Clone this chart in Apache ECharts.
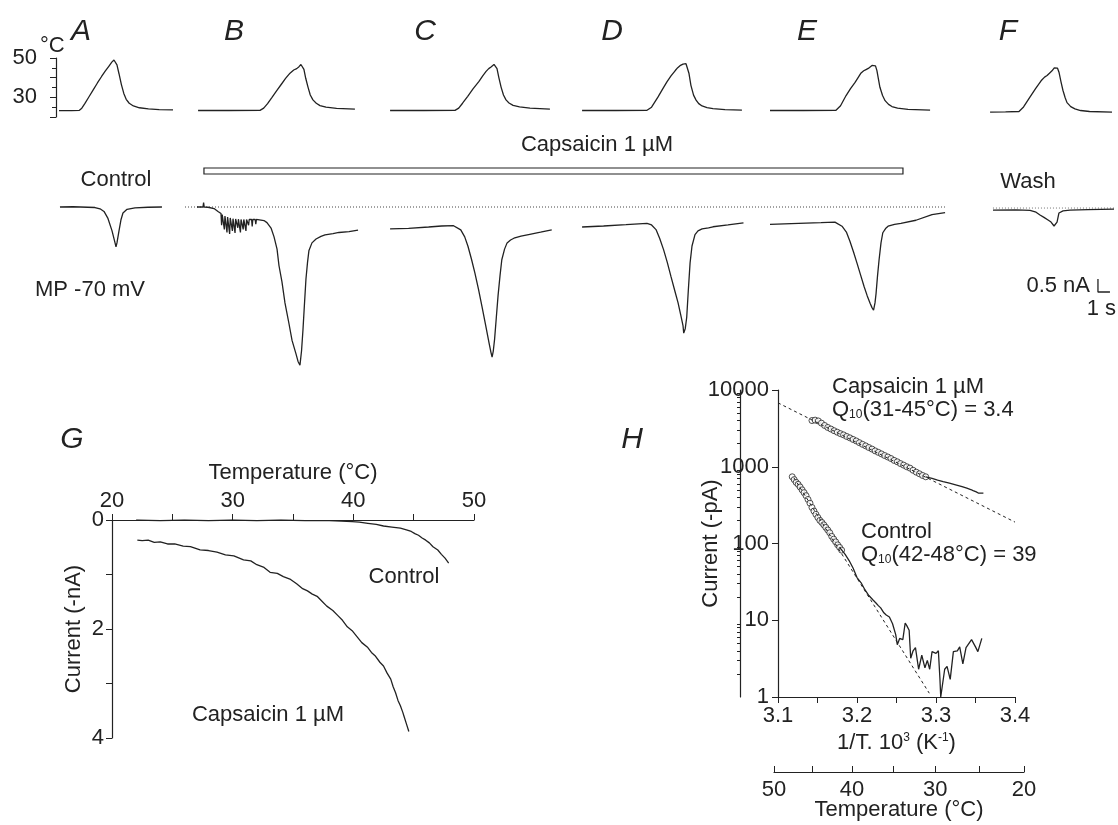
<!DOCTYPE html>
<html>
<head>
<meta charset="utf-8">
<script src="https://cdn.jsdelivr.net/npm/echarts@6/dist/echarts.min.js"></script>
<style>
html, body { margin: 0; padding: 0; background: #fff; }
#main { width: 1118px; height: 825px; }
</style>
</head>
<body>
<div id="main"></div>
<script>
var FONT = '"Liberation Sans", Arial, Helvetica, sans-serif';
var INK = '#222';

// ---- top row: bath temperature (s, °C) ----
var timeMax = 88.5;
var tempA = [[0.25,23.2],[1.3,23.2],[1.95,23.4],[2.15,24.5],[2.4,26.8],[2.75,30.3],[3.1,33.8],[3.45,37.3],[3.8,40.6],[4.1,43.3],[4.4,45.8],[4.65,47.9],[4.83,49.0],[4.95,48.7],[5.08,46.5],[5.25,42.0],[5.45,36.5],[5.65,32.0],[5.85,29.0],[6.1,27.0],[6.45,25.6],[6.95,24.7],[7.7,24.1],[8.6,23.8],[9.75,23.6]];
var tempB = [[11.84,23.3],[14.38,23.3],[17.0,23.4],[17.31,24.5],[17.63,26.8],[18.0,30.0],[18.38,33.3],[18.75,36.4],[19.13,39.6],[19.5,42.3],[19.81,43.9],[20.06,44.6],[20.25,45.6],[20.41,46.7],[20.54,46.3],[20.66,44.2],[20.81,39.7],[21.0,35.2],[21.19,31.2],[21.41,28.7],[21.69,27.0],[22.0,25.8],[22.5,25.0],[23.38,24.4],[24.91,24.0]];
var tempC = [[27.84,23.3],[30.63,23.3],[33.25,23.4],[33.56,24.5],[33.88,27.0],[34.31,30.5],[34.75,34.3],[35.25,38.1],[35.56,40.9],[35.84,43.2],[36.06,44.6],[36.25,45.4],[36.38,46.2],[36.5,46.7],[36.63,46.4],[36.75,44.6],[36.9,40.2],[37.09,35.2],[37.29,31.2],[37.5,28.7],[37.75,27.1],[38.09,25.9],[38.63,25.1],[39.5,24.5],[41.16,24.0]];
var tempD = [[43.84,23.3],[46.63,23.3],[49.25,23.4],[49.63,25.0],[50.16,30.1],[50.56,34.3],[50.91,37.9],[51.25,40.9],[51.59,43.5],[51.81,45.1],[52.0,46.1],[52.25,46.9],[52.5,47.1],[52.63,46.3],[52.75,42.1],[52.91,36.1],[53.13,31.1],[53.34,28.6],[53.56,26.8],[53.84,25.6],[54.25,24.8],[54.75,24.3],[55.75,23.8],[57.16,23.5]];
var tempE = [[59.5,23.3],[62.25,23.3],[65.0,23.4],[65.38,25.7],[65.84,30.9],[66.21,34.4],[66.59,37.6],[66.88,40.4],[67.09,42.4],[67.31,43.5],[67.5,44.1],[67.69,44.7],[67.84,45.3],[68.0,46.2],[68.16,46.8],[68.29,46.0],[68.41,43.6],[68.54,39.1],[68.66,35.1],[68.88,30.9],[69.09,28.3],[69.38,26.4],[69.66,25.3],[70.13,24.5],[71.0,23.9],[72.84,23.5]];
var tempF = [[77.84,22.5],[79.13,22.6],[80.25,22.8],[80.63,25.1],[81.16,30.1],[81.63,34.4],[82.09,38.4],[82.38,40.3],[82.59,41.1],[82.81,42.4],[83.0,43.5],[83.19,45.0],[83.34,45.8],[83.46,44.8],[83.59,42.6],[83.75,37.9],[83.91,33.6],[84.09,29.9],[84.25,27.3],[84.56,25.3],[84.91,24.1],[85.38,23.3],[86.13,22.8],[88.0,22.5]];

// ---- membrane current (s, nA, inward negative) ----
var curControl = [[0.33,0],[1.42,0.01],[3.25,-0.02],[3.67,-0.07],[4.0,-0.17],[4.33,-0.44],[4.67,-0.92],[4.92,-1.38],[5.0,-1.53],[5.08,-1.38],[5.25,-0.92],[5.42,-0.48],[5.58,-0.23],[5.92,-0.09],[6.58,-0.03],[7.67,-0.01],[8.83,0]];
var curB = [[11.75,0],[12.25,0],[12.3,0.17],[12.35,0],[12.67,-0.01],[13.17,-0.06],[13.5,-0.17],
  [13.75,-0.25],[13.8,-0.7],[13.85,-0.29],[13.98,-0.32],[14.03,-0.86],[14.08,-0.35],[14.2,-0.37],[14.25,-0.98],[14.3,-0.39],[14.42,-0.4],[14.47,-1.04],[14.52,-0.42],[14.65,-0.44],[14.7,-0.92],[14.75,-0.45],[14.87,-0.46],[14.92,-1.0],[14.97,-0.46],[15.1,-0.47],[15.15,-0.8],[15.2,-0.47],[15.32,-0.48],[15.37,-0.98],[15.42,-0.48],[15.55,-0.48],[15.6,-0.86],[15.65,-0.48],[15.78,-0.48],[15.83,-0.92],[15.88,-0.48],[16.0,-0.48],[16.05,-0.7],[16.1,-0.48],[16.3,-0.48],[16.35,-0.75],[16.4,-0.48],[16.6,-0.48],[16.65,-0.66],[16.7,-0.48],
  [17.33,-0.52],[17.58,-0.6],[17.92,-0.81],[18.17,-1.15],[18.42,-1.62],[18.58,-2.25],[18.83,-2.88],[19.08,-3.69],[19.42,-4.5],[19.67,-5.13],[20.0,-5.65],[20.17,-5.94],[20.33,-6.08],[20.46,-5.54],[20.58,-4.73],[20.71,-3.69],[20.83,-2.77],[20.96,-2.13],[21.08,-1.67],[21.33,-1.38],[21.67,-1.23],[22.08,-1.13],[22.42,-1.07],[23.08,-1.02],[23.58,-0.98],[24.42,-0.95],[25.17,-0.89]];
var curC = [[27.84,-0.84],[29.38,-0.82],[31.05,-0.77],[32.13,-0.73],[33.13,-0.72],[33.73,-0.88],[34.06,-1.15],[34.33,-1.51],[34.63,-2.02],[34.91,-2.54],[35.21,-3.17],[35.5,-3.83],[35.81,-4.56],[36.09,-5.24],[36.25,-5.6],[36.34,-5.77],[36.44,-5.54],[36.55,-5.08],[36.69,-4.27],[36.84,-3.4],[37.0,-2.65],[37.15,-2.03],[37.38,-1.62],[37.59,-1.38],[37.88,-1.27],[38.16,-1.2],[38.75,-1.12],[39.38,-1.06],[40.38,-0.97],[41.31,-0.88]];
var curD = [[43.84,-0.77],[45.63,-0.73],[47.5,-0.68],[49.25,-0.63],[49.63,-0.69],[50.0,-0.87],[50.31,-1.21],[50.63,-1.64],[50.94,-2.13],[51.25,-2.68],[51.56,-3.21],[51.84,-3.69],[52.06,-4.15],[52.25,-4.56],[52.31,-4.85],[52.44,-4.67],[52.56,-4.24],[52.69,-3.23],[52.84,-2.15],[53.0,-1.5],[53.25,-1.06],[53.5,-0.92],[53.84,-0.84],[54.38,-0.8],[54.75,-0.76],[56.0,-0.69],[57.29,-0.61]];
var curE = [[59.5,-0.67],[61.88,-0.63],[63.75,-0.6],[64.91,-0.58],[65.5,-0.74],[65.88,-0.98],[66.16,-1.32],[66.46,-1.73],[66.75,-2.16],[67.04,-2.6],[67.34,-3.06],[67.59,-3.4],[67.84,-3.7],[68.0,-3.87],[68.13,-3.97],[68.25,-3.69],[68.34,-3.32],[68.46,-2.65],[68.59,-2.03],[68.75,-1.38],[68.9,-0.99],[69.13,-0.83],[69.34,-0.74],[69.88,-0.67],[70.41,-0.63],[71.66,-0.51],[73.0,-0.29],[74.09,-0.22]];
var curWash = [[78.08,-0.12],[80.0,-0.11],[81.17,-0.13],[81.67,-0.2],[82.0,-0.31],[82.33,-0.4],[82.67,-0.5],[82.92,-0.58],[83.08,-0.65],[83.17,-0.73],[83.3,-0.66],[83.42,-0.58],[83.58,-0.23],[83.92,-0.15],[84.5,-0.12],[86.0,-0.1],[88.17,-0.08]];
var zeroLine = [[10.75,0],[74.08,0]];
var washZeroLine = [[78.08,-0.04],[88.17,-0.04]];
var capsApplied = [12.33, 70.58];         // s
var capsBarLevel = [1.27, 1.5];          // drawn band, nA units
var scaleBar = [[86.83,-2.77],[86.83,-3.27],[87.83,-3.27]];   // 0.5 nA, 1 s

// ---- G: current vs temperature ----
var gControl = [[22.0,0.0],[24.0,0.01],[26.0,0.0],[28.0,0.01],[30.0,0.0],[32.0,0.01],[34.0,0.0],[36.0,0.01],[38.0,0.01],[39.0,0.02],[39.9,0.03],[40.5,0.04],[41.2,0.06],[41.9,0.08],[42.5,0.11],[43.2,0.13],[43.9,0.15],[44.4,0.18],[44.8,0.21],[45.1,0.25],[45.4,0.28],[45.7,0.33],[46.0,0.37],[46.3,0.42],[46.6,0.49],[47.0,0.55],[47.3,0.63],[47.6,0.70],[47.9,0.79]];
var gCaps = [[22.1,0.37],[22.5,0.38],[23.0,0.37],[23.5,0.41],[24.0,0.40],[24.6,0.44],[25.2,0.44],[25.9,0.48],[26.5,0.49],[27.3,0.55],[28.0,0.56],[28.7,0.59],[29.4,0.64],[30.1,0.66],[30.9,0.73],[31.5,0.75],[32.0,0.82],[32.6,0.87],[33.1,0.96],[33.7,0.98],[34.2,1.04],[34.8,1.09],[35.3,1.17],[35.8,1.26],[36.2,1.30],[36.6,1.36],[37.0,1.40],[37.4,1.49],[37.8,1.58],[38.3,1.66],[38.7,1.75],[39.1,1.84],[39.5,1.96],[39.9,2.03],[40.3,2.14],[40.7,2.25],[41.2,2.34],[41.5,2.43],[41.8,2.49],[42.2,2.61],[42.5,2.68],[42.8,2.81],[43.1,2.92],[43.3,3.06],[43.5,3.17],[43.7,3.31],[43.9,3.41],[44.1,3.53],[44.2,3.60],[44.4,3.74],[44.6,3.88]];

// ---- H: Arrhenius plot (1000/T, -pA) ----
var hCapsCircles = [[3.143,4000],[3.147,4050],[3.151,3950],[3.155,3700],[3.159,3450],[3.163,3250],[3.167,3100],[3.171,2950],[3.175,2820],[3.179,2700],[3.183,2600],[3.187,2480],[3.191,2380],[3.195,2270],[3.199,2170],[3.203,2060],[3.207,1960],[3.211,1870],[3.215,1780],[3.219,1700],[3.223,1610],[3.227,1540],[3.231,1470],[3.235,1400],[3.239,1340],[3.243,1280],[3.247,1210],[3.251,1160],[3.255,1100],[3.259,1050],[3.263,1000],[3.267,960],[3.271,900],[3.275,850],[3.279,810],[3.283,770],[3.287,740]];
var hCapsTail = [[3.287,740],[3.295,705],[3.302,670],[3.309,640],[3.317,610],[3.326,578],[3.333,550],[3.339,525],[3.344,505],[3.347,488],[3.351,470],[3.354,452],[3.36,452]];
var hCapsFit = [[3.1,6800],[3.4,190]];
var hCtrlCircles = [[3.118,740],[3.1205,680],[3.123,625],[3.1255,590],[3.128,545],[3.1305,500],[3.133,460],[3.1355,420],[3.138,375],[3.1405,335],[3.143,295],[3.1455,265],[3.148,240],[3.1505,218],[3.153,200],[3.1555,188],[3.158,175],[3.1605,162],[3.163,150],[3.1655,138],[3.168,124],[3.1705,114],[3.173,105],[3.1755,96],[3.178,89],[3.1805,82]];
var hCtrlTail = [[3.178,89],[3.185,72],[3.19,60],[3.195,48],[3.2,36],[3.205,31],[3.21,25],[3.215,21],[3.22,18.5],[3.224,16.8],[3.227,15.5],[3.23,14.5],[3.234,12.5],[3.237,11.7],[3.241,11],[3.245,9],[3.249,6.5],[3.251,4.8],[3.254,5.8],[3.258,5.6],[3.261,9.2],[3.263,8.5],[3.266,7.4],[3.268,3.2],[3.271,4.0],[3.274,4.4],[3.278,2.3],[3.282,3.5],[3.286,2.4],[3.289,3.0],[3.292,2.3],[3.295,3.9],[3.3,3.7],[3.303,4.0],[3.305,1.7],[3.306,1.0],[3.308,1.0],[3.311,2.3],[3.314,2.5],[3.318,1.7],[3.322,3.9],[3.327,4.0],[3.33,4.5],[3.334,2.7],[3.338,4.4],[3.345,5.6],[3.35,4.5],[3.353,3.9],[3.358,5.8]];
var hCtrlFit = [[3.12,720],[3.2915,1.12]];
var hLogMinor = [2,3,4,5,6,7,8,9,20,30,40,50,60,70,80,90,200,300,400,500,600,700,800,900,2000,3000,4000,5000,6000,7000,8000,9000];
var hTempTicks = [50,45,40,35,30,25,20];
var hTempLabels = [50,40,30,20];

function invT(c) { return 1000 / (c + 273.15); }

function trace(data, xi, yi) {
    return {
        type: 'line', data: data, xAxisIndex: xi, yAxisIndex: yi,
        showSymbol: false, silent: true,
        lineStyle: { color: INK, width: 1.3 }
    };
}
function dashed(data, xi, yi) {
    var s = trace(data, xi, yi);
    s.lineStyle = { color: INK, width: 1, type: [3, 3] };
    return s;
}
function circles(data) {
    return {
        type: 'scatter', data: data, xAxisIndex: 3, yAxisIndex: 3,
        symbol: 'circle', symbolSize: 6, silent: true,
        itemStyle: { color: '#fff', borderColor: INK, borderWidth: 1 }
    };
}
function txt(x, y, s, size, extra) {
    var st = {
        text: s, x: x, y: y, fill: INK,
        font: (extra && extra.italic ? 'italic ' : '') + size + 'px ' + FONT,
        align: (extra && extra.align) || 'center', textAlign: (extra && extra.align) || 'center',
        verticalAlign: 'middle', textVerticalAlign: 'middle'
    };
    if (extra && extra.rich) st.rich = extra.rich;
    return { type: 'text', silent: true, style: st };
}

var axisText = { color: INK, fontSize: 22, fontFamily: FONT };
var inkLine = { show: true, lineStyle: { color: INK, width: 1.2 } };
var subRich = { s: { fontSize: 12, fontFamily: FONT, color: INK, verticalAlign: 'bottom', padding: [10, 0, 0, 0] } };

var myChart = echarts.init(document.getElementById('main'));
var option = {
    animation: false,
    backgroundColor: '#fff',
    grid: [
        { left: 56, top: 58, width: 1062, height: 59, containLabel: false, outerBoundsMode: 'none' },
        { left: 56, top: 155, width: 1062, height: 234, containLabel: false, outerBoundsMode: 'none' },
        { left: 112, top: 520, width: 362, height: 218, containLabel: false, outerBoundsMode: 'none' },
        { left: 778, top: 390, width: 237, height: 307, containLabel: false, outerBoundsMode: 'none' },
        { left: 774, top: 771, width: 250, height: 1, containLabel: false, outerBoundsMode: 'none' },
        // helper grid whose right edge is the H y axis, carrying the minor log ticks
        { left: 740, top: 390, width: 38, height: 307, containLabel: false, outerBoundsMode: 'none' }
    ],
    xAxis: [
        { gridIndex: 0, type: 'value', min: 0, max: timeMax, show: false },
        { gridIndex: 1, type: 'value', min: 0, max: timeMax, show: false },
        {
            gridIndex: 2, type: 'value', position: 'top', min: 20, max: 50, interval: 5,
            name: 'Temperature (°C)', nameLocation: 'middle', nameGap: 36, nameMoveOverlap: false, nameTextStyle: axisText,
            axisLine: inkLine, splitLine: { show: false },
            axisTick: { lineStyle: { color: INK }, length: 6 },
            axisLabel: Object.assign({ margin: 8, formatter: function (v) { return v % 10 === 0 ? v : ''; } }, axisText)
        },
        {
            gridIndex: 3, type: 'value', min: 3.1, max: 3.4, interval: 0.1,
            name: '1/T. 10{sup|3} (K{sup|-1})', nameLocation: 'middle', nameGap: 35, nameMoveOverlap: false,
            nameTextStyle: Object.assign({ rich: { sup: { fontSize: 12, fontFamily: FONT, color: INK, verticalAlign: 'top', padding: [0, 0, 8, 0] } } }, axisText),
            axisLine: inkLine, splitLine: { show: false },
            axisTick: { lineStyle: { color: INK }, length: 6 },
            minorTick: { show: true, splitNumber: 2, length: 6, lineStyle: { color: INK } },
            axisLabel: Object.assign({ margin: 8, formatter: function (v) { return v.toFixed(1); } }, axisText)
        },
        {
            gridIndex: 4, type: 'value', min: invT(hTempTicks[0]), max: invT(hTempTicks[hTempTicks.length - 1]),
            name: 'Temperature (°C)', nameLocation: 'middle', nameGap: 27, nameMoveOverlap: false, nameTextStyle: axisText,
            axisLine: inkLine, splitLine: { show: false },
            axisTick: { inside: true, length: 6, lineStyle: { color: INK }, customValues: hTempTicks.map(invT) },
            axisLabel: Object.assign({ margin: 7, customValues: hTempLabels.map(invT),
                formatter: function (v) { return Math.round(1000 / v - 273.15); } }, axisText)
        },
        { gridIndex: 5, type: 'value', min: 0, max: 1, show: false }
    ],
    yAxis: [
        {
            gridIndex: 0, type: 'value', min: 20, max: 50, interval: 10, offset: 13,
            axisLine: inkLine, splitLine: { show: false },
            axisTick: { show: true, length: 6, lineStyle: { color: INK } },
            minorTick: { show: true, splitNumber: 2, length: 4, lineStyle: { color: INK } },
            axisLabel: Object.assign({ margin: 6, formatter: function (v) { return (v === 50 || v === 30) ? v : ''; } }, axisText)
        },
        { gridIndex: 1, type: 'value', min: -7, max: 2, show: false },
        {
            gridIndex: 2, type: 'value', inverse: true, min: 0, max: 4, interval: 1,
            name: 'Current (-nA)', nameLocation: 'middle', nameGap: 27, nameMoveOverlap: false, nameTextStyle: axisText,
            axisLine: inkLine, splitLine: { show: false },
            axisTick: { show: true, length: 6, lineStyle: { color: INK } },
            axisLabel: Object.assign({ margin: 8, formatter: function (v) { return v % 2 === 0 ? v : ''; } }, axisText)
        },
        {
            gridIndex: 3, type: 'log', logBase: 10, min: 1, max: 10000, position: 'left',
            name: 'Current (-pA)', nameLocation: 'middle', nameGap: 56, nameMoveOverlap: false, nameTextStyle: axisText,
            axisLine: inkLine, splitLine: { show: false },
            axisTick: { show: true, length: 6, lineStyle: { color: INK } },
            axisLabel: Object.assign({ margin: 9, formatter: function (v) { return String(Math.round(v)); } }, axisText)
        },
        {
            gridIndex: 5, type: 'log', logBase: 10, min: 1, max: 10000, position: 'right',
            axisLine: { show: true, lineStyle: { color: INK, width: 1.2 } },
            splitLine: { show: false }, axisLabel: { show: false },
            axisTick: { show: true, inside: true, length: 3, lineStyle: { color: INK }, customValues: hLogMinor }
        },
        { gridIndex: 4, type: 'value', show: false }
    ],
    graphic: [
        txt(81, 32, 'A', 30, { italic: true }),
        txt(234, 32, 'B', 30, { italic: true }),
        txt(425, 32, 'C', 30, { italic: true }),
        txt(612, 32, 'D', 30, { italic: true }),
        txt(807, 32, 'E', 30, { italic: true }),
        txt(1008, 32, 'F', 30, { italic: true }),
        txt(40, 46, '°C', 22, { align: 'left' }),
        txt(597, 145, 'Capsaicin 1 µM', 22),
        txt(116, 180, 'Control', 22),
        txt(1028, 182, 'Wash', 22),
        txt(90, 290, 'MP -70 mV', 22),
        txt(1090, 286, '0.5 nA', 22, { align: 'right' }),
        txt(1116, 309, '1 s', 22, { align: 'right' }),
        txt(72, 440, 'G', 30, { italic: true }),
        txt(404, 577, 'Control', 22),
        txt(268, 715, 'Capsaicin 1 µM', 22),
        txt(632, 440, 'H', 30, { italic: true }),
        txt(832, 387, 'Capsaicin 1 µM', 22, { align: 'left' }),
        txt(832, 410, 'Q{s|10}(31-45°C) = 3.4', 22, { align: 'left', rich: subRich }),
        txt(861, 532, 'Control', 22, { align: 'left' }),
        txt(861, 555, 'Q{s|10}(42-48°C) = 39', 22, { align: 'left', rich: subRich })
    ],
    series: [
        trace(tempA, 0, 0), trace(tempB, 0, 0), trace(tempC, 0, 0),
        trace(tempD, 0, 0), trace(tempE, 0, 0), trace(tempF, 0, 0),
        (function () {
            var s = dashed(zeroLine, 1, 1);
            s.lineStyle = { color: '#444', width: 1, type: [1, 2] };
            s.markArea = {
                silent: true,
                itemStyle: { color: '#fff', borderColor: INK, borderWidth: 1.2 },
                data: [[{ xAxis: capsApplied[0], yAxis: capsBarLevel[0] }, { xAxis: capsApplied[1], yAxis: capsBarLevel[1] }]]
            };
            return s;
        })(),
        (function () {
            var s = dashed(washZeroLine, 1, 1);
            s.lineStyle = { color: '#777', width: 1, type: [1, 2] };
            return s;
        })(),
        trace(curControl, 1, 1), trace(curB, 1, 1), trace(curC, 1, 1),
        trace(curD, 1, 1), trace(curE, 1, 1), trace(curWash, 1, 1),
        trace(scaleBar, 1, 1),
        trace(gControl, 2, 2), trace(gCaps, 2, 2),
        dashed(hCapsFit, 3, 3), dashed(hCtrlFit, 3, 3),
        trace(hCapsTail, 3, 3), trace(hCtrlTail, 3, 3),
        circles(hCapsCircles), circles(hCtrlCircles)
    ]
};
if (option && typeof option === "object") {
    myChart.setOption(option, true);
}
</script>
</body>
</html>
